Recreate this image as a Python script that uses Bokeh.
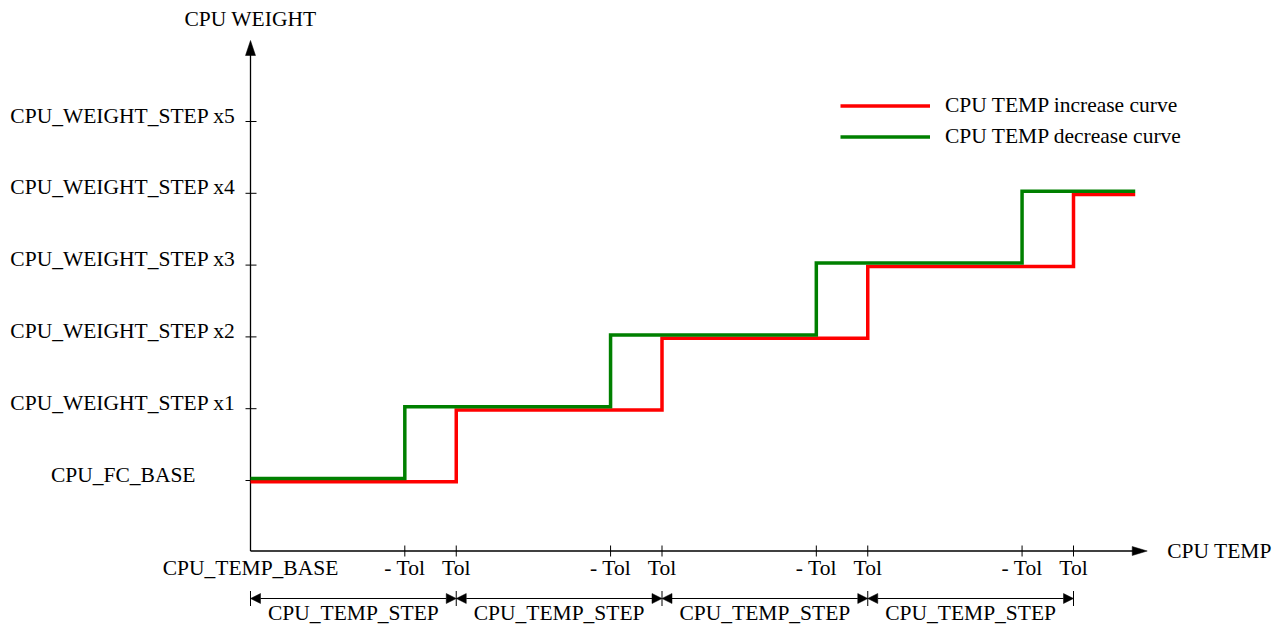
from bokeh.plotting import figure
from bokeh.models import Range1d, ColumnDataSource, Arrow, NormalHead, Legend, LegendItem
from bokeh.core.properties import value
from bokeh.embed import file_html
from bokeh.resources import INLINE

# ---------------- data ----------------
weight_labels = ["CPU_FC_BASE", "CPU_WEIGHT_STEP x1", "CPU_WEIGHT_STEP x2",
                 "CPU_WEIGHT_STEP x3", "CPU_WEIGHT_STEP x4", "CPU_WEIGHT_STEP x5"]
weight_levels = [0, 1, 2, 3, 4, 5]

step_bounds = [0, 1, 2, 3, 4]          # CPU_TEMP_BASE + k * CPU_TEMP_STEP
tol = 0.25                              # tolerance, in steps
step_label = "CPU_TEMP_STEP"
base_label = "CPU_TEMP_BASE"

increase_x = [0, 1, 2, 3, 4, 4.3]
increase_y = [0, 1, 2, 3, 4, 4]
decrease_x = [0, 0.75, 1.75, 2.75, 3.75, 4.3]
decrease_y = [0, 1, 2, 3, 4, 4]

series_names = ["CPU TEMP increase curve", "CPU TEMP decrease curve"]
series_colors = ["#ff0000", "#008000"]

# ---------------- layout ----------------
W, H = 1284, 626
PAD = 0                       # page offset of the figure
SX, SY = 205.75, 71.8         # pixels per data unit
OX, OY = 250, 480             # page position of data origin
FONT = value("Liberation Serif")
FS = "21.5px"
LIFT = 7                      # baseline correction, px

def px_x(n):
    return n / SX

def px_y(n):
    return n / SY

p = figure(width=W, height=H, output_backend="svg", toolbar_location=None,
           x_range=Range1d((PAD - OX) / SX, (PAD + W - OX) / SX),
           y_range=Range1d((OY - (PAD + H)) / SY, (OY - PAD) / SY),
           min_border=0, outline_line_color=None)
p.axis.visible = False
p.grid.visible = False
p.background_fill_color = "white"
p.border_fill_color = "white"

axis_y = -px_y(70.5)          # x-axis level
y_tip = px_y(OY - 40)         # top of y-axis arrow
x_tip = increase_x[-1] + px_x(12)

# axes lines
p.segment(x0=[0, 0], y0=[axis_y, axis_y], x1=[0, x_tip - px_x(14)],
          y1=[y_tip - px_y(14), axis_y], line_color="black", line_width=1.3)
# arrow heads
p.patches(xs=[[0, -px_x(5), px_x(5)],
              [x_tip, x_tip - px_x(15), x_tip - px_x(15)]],
          ys=[[y_tip, y_tip - px_y(15), y_tip - px_y(15)],
              [axis_y, axis_y + px_y(4.5), axis_y - px_y(4.5)]],
          fill_color="black", line_color="black", line_width=0.5)

# y ticks
p.scatter(x=[px_x(0.5)] * len(weight_levels), y=weight_levels, marker="dash",
          size=11, line_color="black", line_width=1)
# x ticks
tick_x = []
tick_lab = []
for b in step_bounds[1:]:
    tick_x += [b - tol, b]
    tick_lab += ["- Tol", "Tol"]
p.scatter(x=tick_x, y=[axis_y] * len(tick_x), marker="dash", angle=1.5708,
          size=11, line_color="black", line_width=1)

# curves
r_inc = p.step(x=increase_x, y=[v - px_y(1.3) for v in increase_y], mode="after",
               line_color=series_colors[0], line_width=3.5, line_join="miter")
r_dec = p.step(x=decrease_x, y=[v + px_y(2.0) for v in decrease_y], mode="after",
               line_color=series_colors[1], line_width=3.5, line_join="miter")

# y labels
p.text(x=[0] * len(weight_levels), y=[v + px_y(LIFT - 1) for v in weight_levels],
       text=weight_labels, x_offset=[-55, -15, -15, -15, -15, -15],
       text_align="right", text_baseline="alphabetic",
       text_font=FONT, text_font_size=FS, text_color="black")
p.text(x=[0], y=[y_tip + px_y(15 + LIFT)], text=["CPU WEIGHT"], text_align="center",
       text_baseline="alphabetic", text_font=FONT, text_font_size=FS, text_color="black")
# x labels
p.text(x=[0] + tick_x, y=[axis_y - px_y(23.5 - LIFT)] * (len(tick_x) + 1),
       text=[base_label] + tick_lab, text_align="center", text_baseline="alphabetic",
       text_font=FONT, text_font_size=FS, text_color="black")
p.text(x=[x_tip + px_x(20)], y=[axis_y - px_y(6.5 - LIFT)], text=["CPU TEMP"],
       text_align="left", text_baseline="alphabetic",
       text_font=FONT, text_font_size=FS, text_color="black")

# dimension arrows
dim_y = -px_y(598 - OY)
src = ColumnDataSource(dict(x0=step_bounds[:-1], x1=step_bounds[1:],
                            y0=[dim_y] * 4, y1=[dim_y] * 4))
p.add_layout(Arrow(start=NormalHead(size=10, fill_color="black", line_color="black", line_width=0.5),
                   end=NormalHead(size=10, fill_color="black", line_color="black", line_width=0.5),
                   x_start="x0", y_start="y0", x_end="x1", y_end="y1", source=src,
                   line_color="black", line_width=1.2))
p.scatter(x=step_bounds, y=[dim_y] * len(step_bounds), marker="dash", angle=1.5708,
          size=15, line_color="black", line_width=1)
p.text(x=[b + 0.5 for b in step_bounds[:-1]], y=[dim_y - px_y(21.5 - LIFT)] * 4,
       text=[step_label] * 4, text_align="center", text_baseline="alphabetic",
       text_font=FONT, text_font_size=FS, text_color="black")

# legend
legend = Legend(items=[LegendItem(label=series_names[0], renderers=[r_inc]),
                       LegendItem(label=series_names[1], renderers=[r_dec])],
                location=(840 - PAD, H - (89.5 - PAD) - 62), glyph_width=90, glyph_height=31,
                label_height=31, label_standoff=15, spacing=0, padding=0, margin=0,
                border_line_alpha=0, background_fill_alpha=0,
                label_text_font="Liberation Serif", label_text_font_size=FS,
                label_text_color="black")
p.add_layout(legend)

open("out.html", "w").write(file_html(p, INLINE))
